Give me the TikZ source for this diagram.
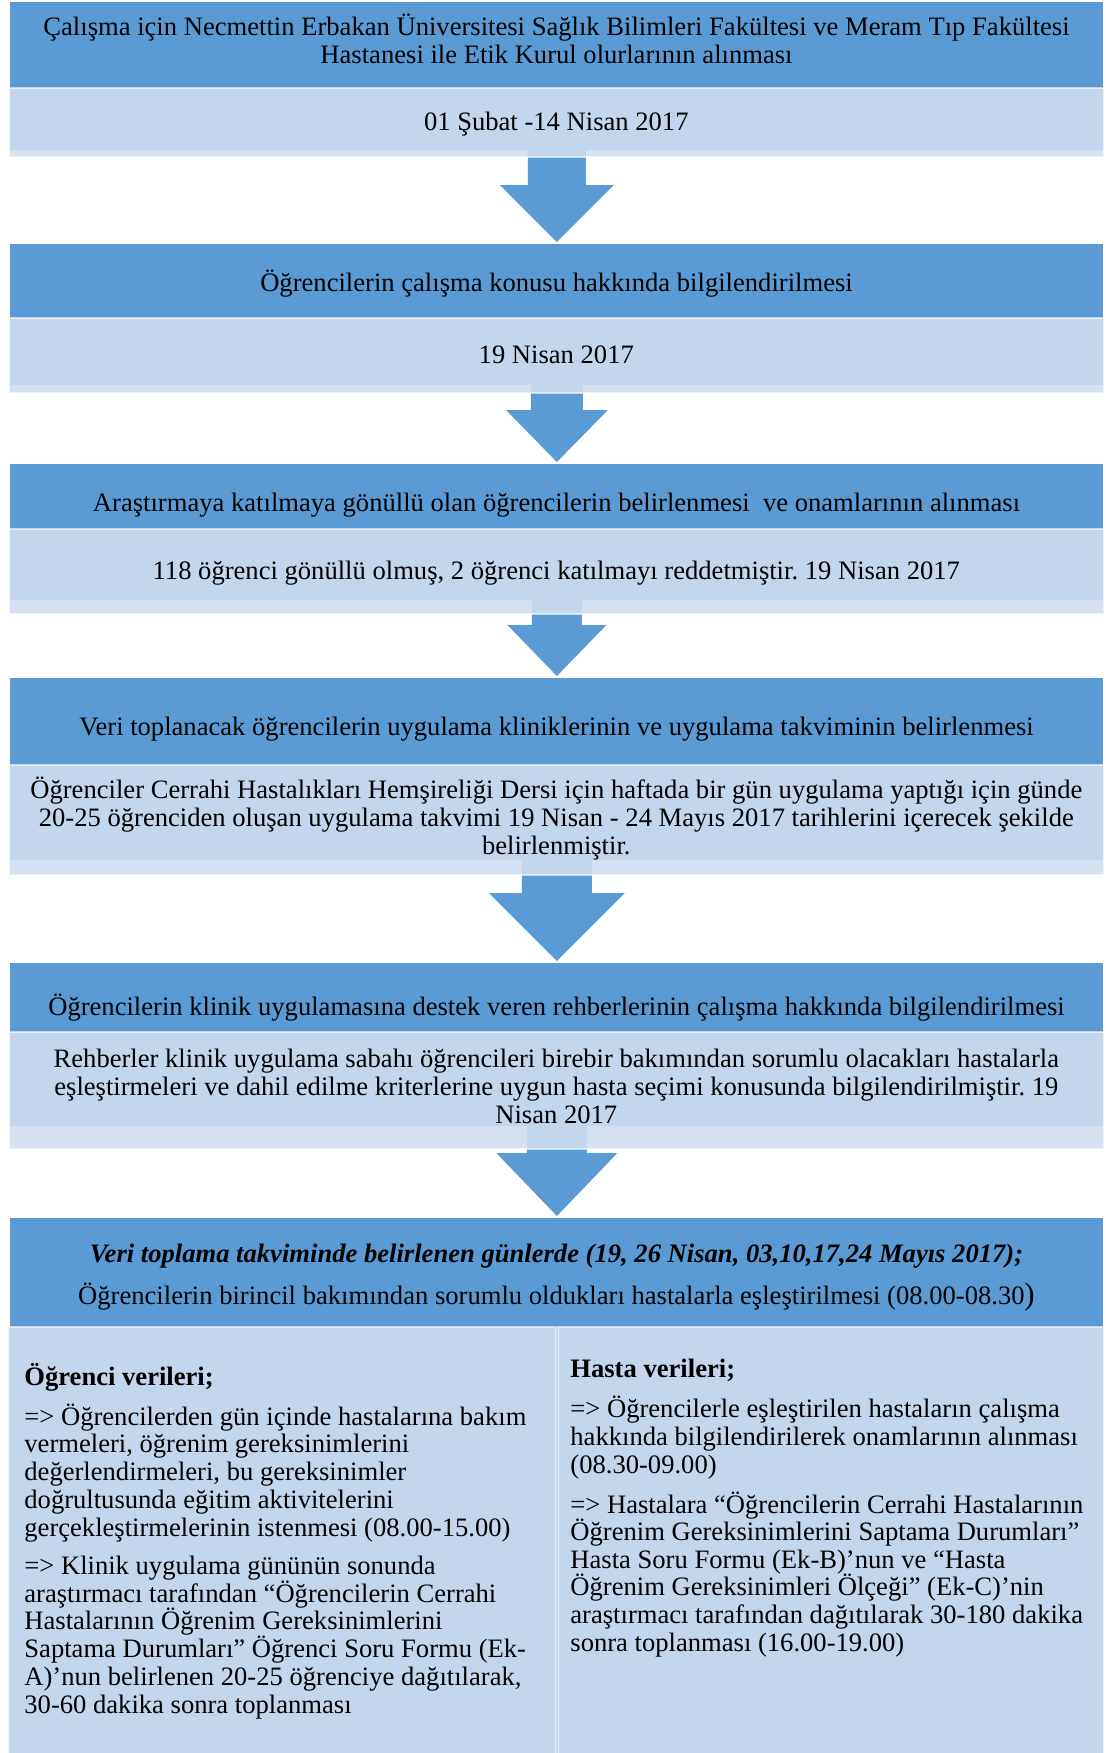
\documentclass[tikz,border=0pt]{standalone}
\usepackage{fontspec}
\setmainfont{Liberation Serif}
\usetikzlibrary{calc}
\definecolor{dk}{RGB}{91,155,213}
\definecolor{lt}{RGB}{208,221,239}
% block arrow from the bottom of node #1 to the top of node #2
% #3 half shaft width, #4 half head width, #5 head length
\newcommand\blockarrow[5]{%
  \fill[dk] let \p1=(#1.south), \p2=(#2.north) in
    (\x2-#3,\y1+15pt) -- (\x2+#3,\y1+15pt) -- (\x2+#3,\y2+1pt+#5) -- (\x2+#4,\y2+1pt+#5)
    -- (\x2,\y2+1pt) -- (\x2-#4,\y2+1pt+#5) -- (\x2-#3,\y2+1pt+#5) -- cycle;}
\newcommand\topstrut{\rule{0pt}{11.9pt}}
\newcommand\botstrut{\rule[-4.14pt]{0pt}{4.14pt}}
\tikzset{
  x=0.5pt, y=-0.5pt,
  basefont/.style={font=\fontsize{13.3}{13.8}\selectfont},
  dkbox/.style={fill=dk, draw=none, inner sep=0pt, anchor=north west},
  ltbox/.style={fill=lt, fill opacity=0.9, text opacity=1, draw=white, draw opacity=0.6,
    line width=0.8pt, inner sep=0pt, anchor=north west, align=center, basefont,
    execute at begin node=\topstrut, execute at end node=\botstrut},
  hdr/.style={inner sep=0pt, align=center, basefont,
    execute at begin node=\topstrut, execute at end node=\botstrut},
  col/.style={inner sep=0pt, align=left, anchor=north west}
}
\begin{document}
\frenchspacing
\begin{tikzpicture}
\useasboundingbox (0,0) rectangle (1105,1753);
% dark header shapes
\node[dkbox, minimum width=546.5pt, minimum height=74pt] (d1) at (10,2) {};
\node[dkbox, minimum width=546.5pt, minimum height=70.5pt] (d2) at (10,244) {};
\node[dkbox, minimum width=546.5pt, minimum height=68pt] (d3) at (10,464) {};
\node[dkbox, minimum width=546.5pt, minimum height=91pt] (d4) at (10,678) {};
\node[dkbox, minimum width=546.5pt, minimum height=81.5pt] (d5) at (10,963) {};
\node[dkbox, minimum width=546.5pt, minimum height=267.5pt] (d6) at (10,1218) {};
% light box corners
\path (8,87) coordinate (l1nw) (8,317) coordinate (l2nw) (8,528) coordinate (l3nw)
      (8,764) coordinate (l4nw) (8,1031) coordinate (l5nw);
% invisible copies of the light boxes, so the arrows can be drawn beneath them
\node[ltbox, draw=none, fill=none, minimum width=547.5pt, minimum height=34.5pt] (g1) at (l1nw) {};
\node[ltbox, draw=none, fill=none, minimum width=547.5pt, minimum height=37.5pt] (g2) at (l2nw) {};
\node[ltbox, draw=none, fill=none, minimum width=547.5pt, minimum height=42.5pt] (g3) at (l3nw) {};
\node[ltbox, draw=none, fill=none, minimum width=547.5pt, minimum height=55pt] (g4) at (l4nw) {};
\node[ltbox, draw=none, fill=none, minimum width=547.5pt, minimum height=58.5pt] (g5) at (l5nw) {};
\blockarrow{g1}{d2}{14.5pt}{28.5pt}{28.5pt}
\blockarrow{g2}{d3}{13pt}{25.5pt}{26pt}
\blockarrow{g3}{d4}{12.5pt}{24.75pt}{25.5pt}
\blockarrow{g4}{d5}{17.5pt}{34pt}{34pt}
\blockarrow{g5}{d6}{15pt}{30.25pt}{31.5pt}
% light boxes with their texts
\node[ltbox, minimum width=547.5pt, minimum height=34.5pt] (l1) at (l1nw) {01 Şubat -14 Nisan 2017};
\node[ltbox, minimum width=547.5pt, minimum height=37.5pt] (l2) at (l2nw) {19 Nisan 2017};
\node[ltbox, minimum width=547.5pt, minimum height=42.5pt] (l3) at (l3nw)
  {118 öğrenci gönüllü olmuş, 2 öğrenci katılmayı reddetmiştir. 19 Nisan 2017};
\node[ltbox, minimum width=547.5pt, minimum height=55pt] (l4) at (l4nw)
  {Öğrenciler Cerrahi Hastalıkları Hemşireliği Dersi için haftada bir gün uygulama yaptığı için günde\\
   20-25 öğrenciden oluşan uygulama takvimi 19 Nisan - 24 Mayıs 2017 tarihlerini içerecek şekilde\\
   belirlenmiştir.};
\node[ltbox, minimum width=547.5pt, minimum height=58.5pt] (l5) at (l5nw)
  {Rehberler klinik uygulama sabahı öğrencileri birebir bakımından sorumlu olacakları hastalarla\\
   eşleştirmeleri ve dahil edilme kriterlerine uygun hasta seçimi konusunda bilgilendirilmiştir. 19\\
   Nisan 2017};
\node[ltbox, minimum width=274pt, minimum height=213.5pt] (lb1) at (7,1326) {};
\node[ltbox, minimum width=273pt, minimum height=213.5pt] (lb2) at (557,1326) {};
% header texts
\node[hdr] (h1) at (556.5,43)
  {Çalışma için Necmettin Erbakan Üniversitesi Sağlık Bilimleri Fakültesi ve Meram Tıp Fakültesi\\
   Hastanesi ile Etik Kurul olurlarının alınması};
\node[hdr] (h2) at (556.5,283.5) {Öğrencilerin çalışma konusu hakkında bilgilendirilmesi};
\node[hdr] (h3) at (556.5,503.5)
  {Araştırmaya katılmaya gönüllü olan öğrencilerin belirlenmesi\ \ ve onamlarının alınması};
\node[hdr] (h4) at (556.5,727.5)
  {Veri toplanacak öğrencilerin uygulama kliniklerinin ve uygulama takviminin belirlenmesi};
\node[hdr] (h5) at (556.5,1007.5)
  {Öğrencilerin klinik uygulamasına destek veren rehberlerinin çalışma hakkında bilgilendirilmesi};
\node[hdr] (h6) at (556.5,1278)
  {\textbf{\textit{Veri toplama takviminde belirlenen günlerde (19, 26 Nisan, 03,10,17,24 Mayıs 2017);}}\\[7.3pt]
   Öğrencilerin birincil bakımından sorumlu oldukları hastalarla eşleştirilmesi (08.00-08.30{\fontsize{15.5}{13.8}\selectfont)}};
% bottom columns
\node[col, font=\fontsize{13.3}{13.9}\selectfont] (c1) at (24,1363)
  {\textbf{Öğrenci verileri;}\\[5.9pt]
   => Öğrencilerden gün içinde hastalarına bakım\\
   vermeleri, öğrenim gereksinimlerini\\
   değerlendirmeleri, bu gereksinimler\\
   doğrultusunda eğitim aktivitelerini\\
   gerçekleştirmelerinin istenmesi (08.00-15.00)\\[5.1pt]
   => Klinik uygulama gününün sonunda\\
   araştırmacı tarafından “Öğrencilerin Cerrahi\\
   Hastalarının Öğrenim Gereksinimlerini\\
   Saptama Durumları” Öğrenci Soru Formu (Ek-\\
   A)’nun belirlenen 20-25 öğrenciye dağıtılarak,\\
   30-60 dakika sonra toplanması};
\node[col, font=\fontsize{13.3}{13.8}\selectfont] (c2) at (570,1359)
  {\textbf{Hasta verileri;}\\[6.2pt]
   => Öğrencilerle eşleştirilen hastaların çalışma\\
   hakkında bilgilendirilerek onamlarının alınması\\
   (08.30-09.00)\\[6.2pt]
   => Hastalara “Öğrencilerin Cerrahi Hastalarının\\
   Öğrenim Gereksinimlerini Saptama Durumları”\\
   Hasta Soru Formu (Ek-B)’nun ve “Hasta\\
   Öğrenim Gereksinimleri Ölçeği” (Ek-C)’nin\\
   araştırmacı tarafından dağıtılarak 30-180 dakika\\
   sonra toplanması (16.00-19.00)};
\end{tikzpicture}
\end{document}
